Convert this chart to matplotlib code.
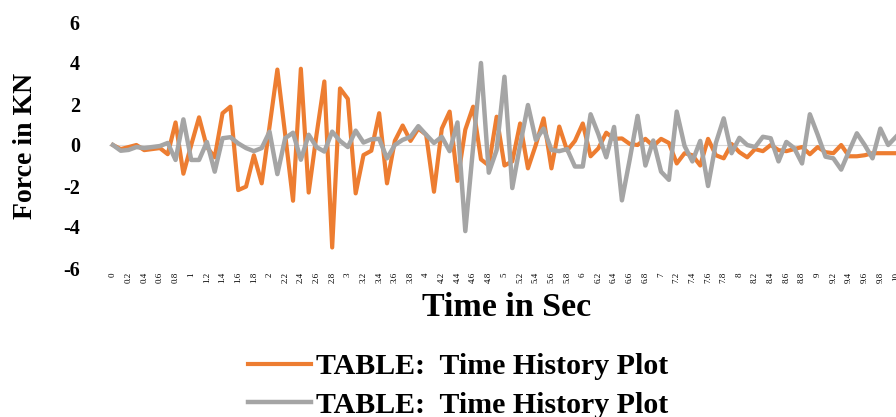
import matplotlib
matplotlib.use("Agg")
import matplotlib.pyplot as plt
from matplotlib.font_manager import FontProperties

# time steps, 0.1 s apart (labels shown every 0.2 s)
times = [round(0.1 * k, 1) for k in range(101)]

# force series (KN)
force_orange = [
    0.0, -0.2, -0.1, 0.0, -0.25, -0.2, -0.15, -0.45, 1.1, -1.4,
    0.0, 1.35, -0.1, -0.6, 1.55, 1.87, -2.2, -2.03, -0.5, -1.87,
    0.9, 3.68, 0.5, -2.72, 3.72, -2.32, 0.5, 3.1, -5.0, 2.76,
    2.25, -2.36, -0.49, -0.28, 1.55, -1.87, 0.2, 0.95, 0.2, 0.8,
    0.5, -2.28, 0.8, 1.63, -1.75, 0.75, 1.87, -0.7, -1.0, 1.38,
    -1.0, -0.8, 1.05, -1.14, 0.0, 1.3, -1.14, 0.9, -0.27, 0.2,
    1.05, -0.55, -0.16, 0.6, 0.3, 0.32, 0.05, 0.0, 0.3, -0.05,
    0.3, 0.1, -0.9, -0.4, -0.5, -1.0, 0.3, -0.5, -0.65, 0.05,
    -0.35, -0.6, -0.2, -0.3, 0.0, -0.25, -0.3, -0.2, -0.1, -0.45,
    -0.1, -0.35, -0.4, 0.0, -0.55, -0.55, -0.5, -0.4, -0.4, -0.4,
    -0.4,
]
force_gray = [
    0.0, -0.28, -0.24, -0.1, -0.15, -0.1, -0.05, 0.1, -0.73, 1.25,
    -0.73, -0.73, 0.15, -1.3, 0.33, 0.38, 0.08, -0.15, -0.3, -0.15,
    0.65, -1.42, 0.33, 0.6, -0.72, 0.5, -0.1, -0.32, 0.65, 0.2,
    -0.1, 0.7, 0.12, 0.28, 0.3, -0.65, 0.0, 0.25, 0.4, 0.92,
    0.5, 0.1, 0.4, -0.3, 1.1, -4.2, -0.1, 4.0, -1.35, -0.25,
    3.33, -2.1, 0.0, 1.95, 0.25, 0.8, -0.24, -0.3, -0.2, -1.05,
    -1.05, 1.5, 0.52, -0.6, 0.88, -2.7, -0.7, 1.42, -1.0, 0.22,
    -1.3, -1.7, 1.63, -0.05, -0.8, 0.2, -2.0, 0.1, 1.3, -0.4,
    0.35, 0.0, -0.1, 0.4, 0.33, -0.8, 0.15, -0.15, -0.9, 1.5,
    0.5, -0.57, -0.65, -1.2, -0.3, 0.57, 0.0, -0.65, 0.8, 0.0,
    0.4,
]
series_names = ["TABLE:  Time History Plot", "TABLE:  Time History Plot"]
y_ticks = [-6, -4, -2, 0, 2, 4, 6]

W, H = 896, 417
fig = plt.figure(figsize=(W / 100, H / 100), dpi=100)
ax = fig.add_axes([109 / W, 149 / H, 787 / W, 246 / H])

idx = list(range(len(times)))
l1, = ax.plot(idx, force_orange, color="#ED7D31", lw=3.0, solid_joinstyle="round")
l2, = ax.plot(idx, force_gray, color="#A5A5A5", lw=3.2, solid_joinstyle="round")
ax.axhline(0, color="#D9D9D9", lw=0.8, zorder=0)

ax.set_xlim(-0.5, 99.7)
ax.set_ylim(-6, 6)
for s in ax.spines.values():
    s.set_visible(False)

# y axis: bold serif numbers
ax.set_yticks(y_ticks)
ax.set_yticklabels([str(v) for v in y_ticks], fontsize=14.5, fontweight="bold",
                   family="Liberation Serif")
ax.tick_params(axis="y", length=0, pad=21)

# x axis: every second category, rotated
xt = idx[::2]
ax.set_xticks(xt)
ax.set_xticklabels([f"{times[k]:g}" for k in xt], rotation=90, fontsize=6.5,
                   family="Liberation Serif", va="top", ha="center")
ax.tick_params(axis="x", length=0, pad=3)

fig.text(25 / W, 1 - 146 / H, "Force in KN", rotation=90, ha="center", va="center",
         fontsize=20, fontweight="bold", family="Liberation Serif")
fig.text(507 / W, 1 - 308 / H, "Time in Sec", ha="center", va="center",
         fontsize=24.5, fontweight="bold", family="Liberation Serif")

leg_font = FontProperties(family="Liberation Serif", weight="bold", size=21.5)
fig.legend([l1, l2], series_names, loc="center", bbox_to_anchor=(458 / W, 1 - 386 / H),
           frameon=False, prop=leg_font, handlelength=2.1, handletextpad=0.18,
           labelspacing=0.38, borderpad=0)

fig.savefig("out.png", dpi=100)
